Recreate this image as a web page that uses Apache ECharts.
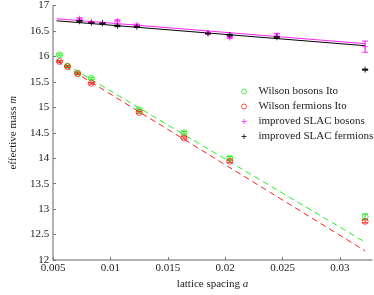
<!DOCTYPE html>
<html><head><meta charset="utf-8">
<script src="https://cdn.jsdelivr.net/npm/echarts@6/dist/echarts.min.js"></script>
<style>html,body{margin:0;padding:0;background:#fff}#c{width:374px;height:295px}</style>
</head><body><div id="c"></div>
<script>
var wilsonX = [0.00555, 0.00625, 0.00714, 0.00833, 0.0125, 0.0164, 0.0204, 0.0322];
var wilsonBosons = [16.03, 15.81, 15.67, 15.57, 14.95, 14.50, 14.00, 12.85];
var wilsonBosonsErr = [0.02, 0.015, 0.015, 0.02, 0.02, 0.025, 0.03, 0.055];
var wilsonFermions = [15.90, 15.80, 15.66, 15.47, 14.90, 14.40, 13.94, 12.76];
var wilsonFermionsErr = [0.015, 0.015, 0.015, 0.015, 0.015, 0.02, 0.02, 0.03];
var slacX = [0.0073, 0.00833, 0.0093, 0.0106, 0.0123, 0.0185, 0.0204, 0.0245, 0.0322];
var slacBosons = [16.74, 16.67, 16.66, 16.70, 16.62, 16.46, 16.37, 16.42, 16.19];
var slacBosonsErr = [0.02, 0.015, 0.01, 0.02, 0.015, 0.015, 0.02, 0.03, 0.11];
var slacFermions = [16.69, 16.66, 16.65, 16.60, 16.58, 16.45, 16.42, 16.375, 15.74];
var slacFermionsErr = [0.015, 0.01, 0.01, 0.015, 0.01, 0.01, 0.015, 0.015, 0.01];
var fitX = [0.0053, 0.0322];
var fitWilsonBosons = [15.95, 12.35];
var fitWilsonFermions = [15.91, 12.18];
var fitSlacBosons = [16.74, 16.25];
var fitSlacFermions = [16.70, 16.21];
var names = ['Wilson bosons Ito', 'Wilson fermions Ito', 'improved SLAC bosons', 'improved SLAC fermions'];
var colors = ['#22ee22', '#ff2020', '#ff22ff', '#000000'];
var xTicks = {min: 0.005, max: 0.0328, interval: 0.005};
var yTicks = {min: 12, max: 17, interval: 0.5};

var FONT = 'Liberation Serif';
var plus = 'path://M0,5H10M5,0V10';

function pts(xs, ys) { return xs.map(function (x, i) { return [x, ys[i]]; }); }
function errs(xs, ys, es) { return xs.map(function (x, i) { return [x, ys[i] - es[i], ys[i] + es[i]]; }); }

function errSeries(data, color) {
  return {
    type: 'custom', silent: true, z: 3,
    data: data,
    renderItem: function (params, api) {
      var lo = api.coord([api.value(0), api.value(1)]);
      var hi = api.coord([api.value(0), api.value(2)]);
      var w = 3;
      var st = {stroke: color, lineWidth: 1};
      return {type: 'group', children: [
        {type: 'line', shape: {x1: lo[0], y1: lo[1], x2: hi[0], y2: hi[1]}, style: st},
        {type: 'line', shape: {x1: lo[0] - w, y1: lo[1], x2: lo[0] + w, y2: lo[1]}, style: st},
        {type: 'line', shape: {x1: hi[0] - w, y1: hi[1], x2: hi[0] + w, y2: hi[1]}, style: st}
      ]};
    }
  };
}

function fitSeries(ys, color, dashed) {
  return {
    type: 'line', silent: true, symbol: 'none', z: 2,
    data: pts(fitX, ys),
    lineStyle: {color: color, width: 1, type: dashed ? [6, 4] : 'solid'}
  };
}

function markSeries(name, xs, ys, color, isCircle) {
  return {
    name: name, type: 'scatter', z: 4,
    data: pts(xs, ys),
    symbol: isCircle ? 'circle' : plus,
    symbolSize: 6,
    itemStyle: {color: 'rgba(0,0,0,0)', borderColor: color, borderWidth: 1}
  };
}

var chart = echarts.init(document.getElementById('c'));
chart.setOption({
  animation: false,
  textStyle: {fontFamily: FONT},
  grid: {left: 38, right: 2, top: 3, bottom: 28},
  legend: {
    orient: 'vertical', left: 236, top: 81, itemGap: 4,
    itemWidth: 7, itemHeight: 5,
    itemStyle: {borderWidth: 1},
    textStyle: {fontFamily: FONT, fontSize: 11, color: '#222', padding: [0, 0, 0, 6]},
    data: names
  },
  xAxis: {
    type: 'value', min: xTicks.min, max: xTicks.max, interval: xTicks.interval,
    name: '{n|lattice spacing }{i|a}', nameLocation: 'middle', nameGap: 19,
    nameTextStyle: {rich: {n: {fontFamily: FONT, fontSize: 11, color: '#222'}, i: {fontFamily: FONT, fontStyle: 'italic', fontSize: 11, color: '#222'}}},
    axisLine: {lineStyle: {color: '#999', width: 1.5}},
    axisTick: {inside: true, length: 3, lineStyle: {color: '#777'}},
    axisLabel: {showMaxLabel: false, fontFamily: FONT, fontSize: 11, color: '#222', margin: 3},
    splitLine: {show: false}
  },
  yAxis: {
    type: 'value', min: yTicks.min, max: yTicks.max, interval: yTicks.interval,
    name: '{n|effective mass }{i|m}', nameLocation: 'middle', nameGap: 30,
    nameTextStyle: {rich: {n: {fontFamily: FONT, fontSize: 11, color: '#222'}, i: {fontFamily: FONT, fontStyle: 'italic', fontSize: 11, color: '#222'}}},
    axisLine: {show: true, lineStyle: {color: '#999', width: 1.5}},
    axisTick: {show: true, inside: true, length: 3, lineStyle: {color: '#777'}},
    axisLabel: {fontFamily: FONT, fontSize: 11, color: '#222', margin: 4},
    splitLine: {show: false}
  },
  series: [
    fitSeries(fitWilsonBosons, colors[0], true),
    fitSeries(fitWilsonFermions, colors[1], true),
    fitSeries(fitSlacBosons, colors[2], false),
    fitSeries(fitSlacFermions, colors[3], false),
    errSeries(errs(wilsonX, wilsonBosons, wilsonBosonsErr), colors[0]),
    errSeries(errs(wilsonX, wilsonFermions, wilsonFermionsErr), colors[1]),
    errSeries(errs(slacX, slacBosons, slacBosonsErr), colors[2]),
    errSeries(errs(slacX, slacFermions, slacFermionsErr), colors[3]),
    markSeries(names[0], wilsonX, wilsonBosons, colors[0], true),
    markSeries(names[1], wilsonX, wilsonFermions, colors[1], true),
    markSeries(names[2], slacX, slacBosons, colors[2], false),
    markSeries(names[3], slacX, slacFermions, colors[3], false)
  ]
});
</script>
</body></html>
